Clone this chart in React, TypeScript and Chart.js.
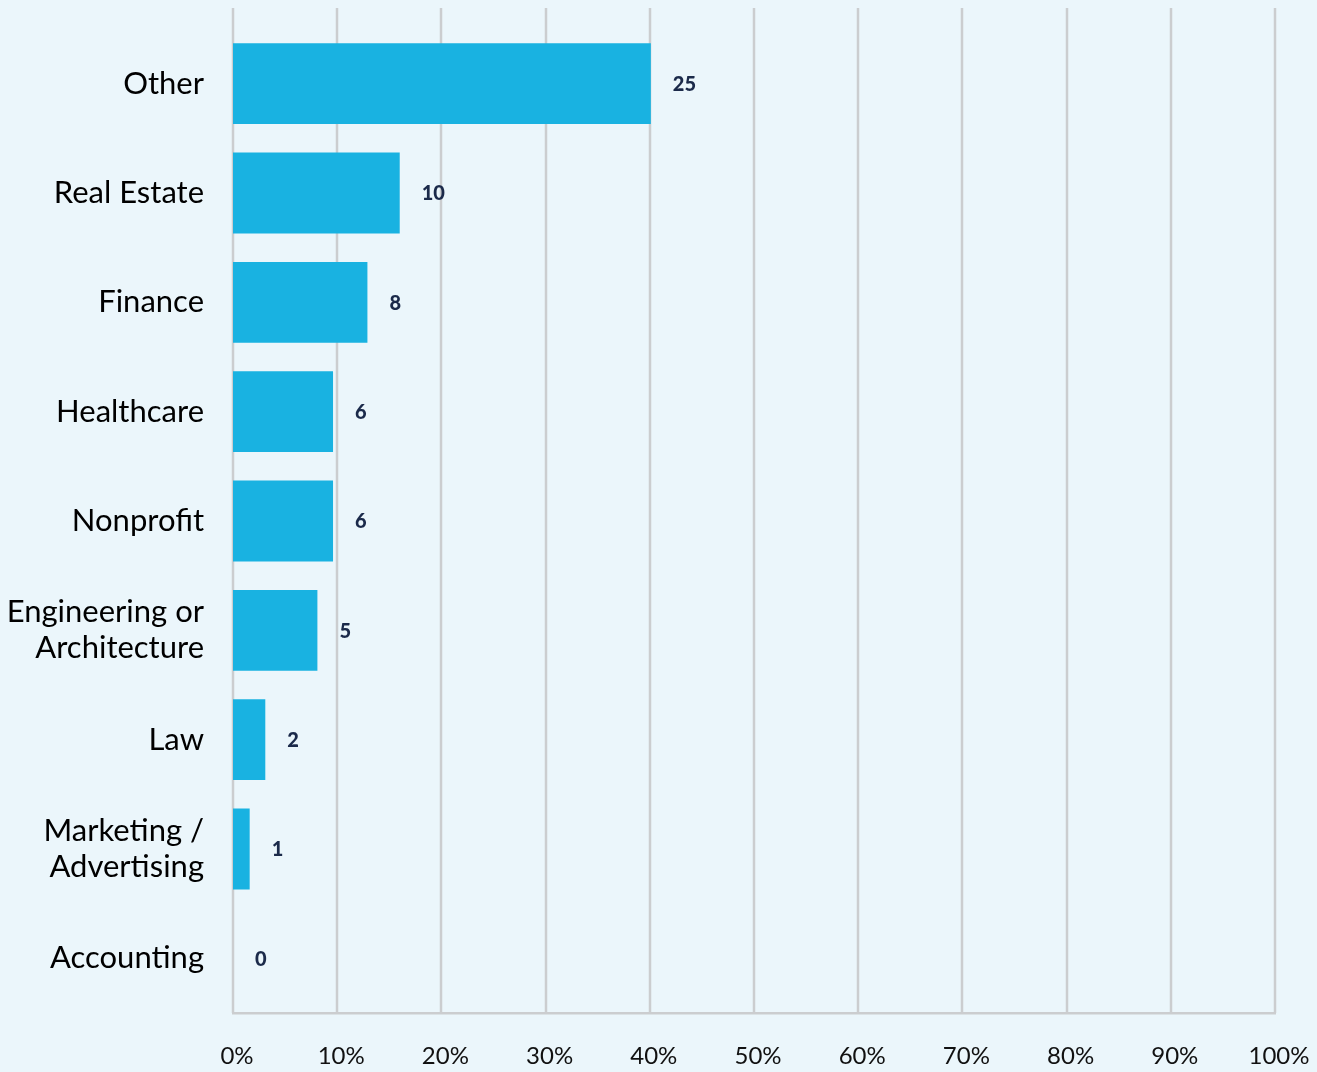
import React, { useEffect, useRef } from "react";
import { Chart, registerables } from "chart.js";

Chart.register(...registerables);

const categories: (string | string[])[] = [
  "Other",
  "Real Estate",
  "Finance",
  "Healthcare",
  "Nonprofit",
  ["Engineering or", "Architecture"],
  "Law",
  ["Marketing /", "Advertising"],
  "Accounting",
];
const percentValues = [40.1, 16.0, 12.9, 9.6, 9.6, 8.1, 3.1, 1.6, 0];
const countLabels = ["25", "10", "8", "6", "6", "5", "2", "1", "0"];
const xTickValues = [0, 10, 20, 30, 40, 50, 60, 70, 80, 90, 100];

const BG = "#EBF6FB";
const BAR = "#19B2E1";
const GRID = "#CBCDCF";
const NAVY = "#1B2A4A";
const FONT = "Lato, 'Open Sans', sans-serif";

const gridPlugin = {
  id: "extendedGrid",
  beforeDatasetsDraw(chart: any) {
    const { ctx, chartArea } = chart;
    const xs = chart.scales.x;
    ctx.save();
    ctx.strokeStyle = GRID;
    ctx.lineWidth = 2.5;
    xTickValues.forEach((v) => {
      const px = Math.round(xs.getPixelForValue(v));
      ctx.beginPath();
      ctx.moveTo(px, 8);
      ctx.lineTo(px, chartArea.bottom);
      ctx.stroke();
    });
    ctx.restore();
  },
};

const valueLabelPlugin = {
  id: "valueLabels",
  afterDatasetsDraw(chart: any) {
    const { ctx } = chart;
    const meta = chart.getDatasetMeta(0);
    ctx.save();
    ctx.fillStyle = NAVY;
    ctx.font = `900 20px ${FONT}`;
    ctx.textAlign = "left";
    ctx.textBaseline = "middle";
    meta.data.forEach((bar: any, i: number) => {
      ctx.fillText(countLabels[i], bar.x + 22, bar.y + 1);
    });
    ctx.restore();
  },
};

export default function App() {
  const canvasRef = useRef<HTMLCanvasElement | null>(null);

  useEffect(() => {
    document.body.style.margin = "0";
    document.body.style.background = BG;
    const canvas = canvasRef.current;
    if (!canvas) return;
    const chart = new Chart(canvas, {
      type: "bar",
      data: {
        labels: categories as any,
        datasets: [
          {
            data: percentValues,
            backgroundColor: BAR,
            borderWidth: 0,
            barPercentage: 0.74,
            categoryPercentage: 1,
          },
        ],
      },
      options: {
        indexAxis: "y",
        animation: false,
        responsive: true,
        maintainAspectRatio: false,
        layout: { padding: { top: 29, right: 42, left: 0, bottom: 0 } },
        plugins: {
          legend: { display: false },
          tooltip: { enabled: false },
        },
        scales: {
          x: {
            min: 0,
            max: 100,
            afterBuildTicks: (scale: any) => {
              scale.ticks = xTickValues.map((v) => ({ value: v }));
            },
            afterFit: (scale: any) => {
              scale.height = 59;
              scale.paddingLeft = 0;
              scale.paddingRight = 0;
            },
            ticks: {
              callback: (v: any) => `${v}%`,
              color: "#111111",
              font: { family: FONT, size: 24 },
              padding: 29,
              labelOffset: 4,
              maxRotation: 0,
              autoSkip: false,
            },
            grid: { display: false, drawTicks: false },
            border: { display: true, color: GRID, width: 2.5 },
          },
          y: {
            afterFit: (scale: any) => {
              scale.width = 233;
              scale.paddingTop = 0;
              scale.paddingBottom = 0;
            },
            ticks: {
              color: "#000000",
              font: { family: FONT, size: 31, lineHeight: 1.16 },
              padding: 29,
              autoSkip: false,
            },
            grid: { display: false, drawTicks: false },
            border: { display: false },
          },
        },
      },
      plugins: [gridPlugin, valueLabelPlugin],
    });
    return () => chart.destroy();
  }, []);

  return (
    <div style={{ position: "relative", width: "1317px", height: "1072px", background: BG }}>
      <canvas ref={canvasRef} />
    </div>
  );
}
